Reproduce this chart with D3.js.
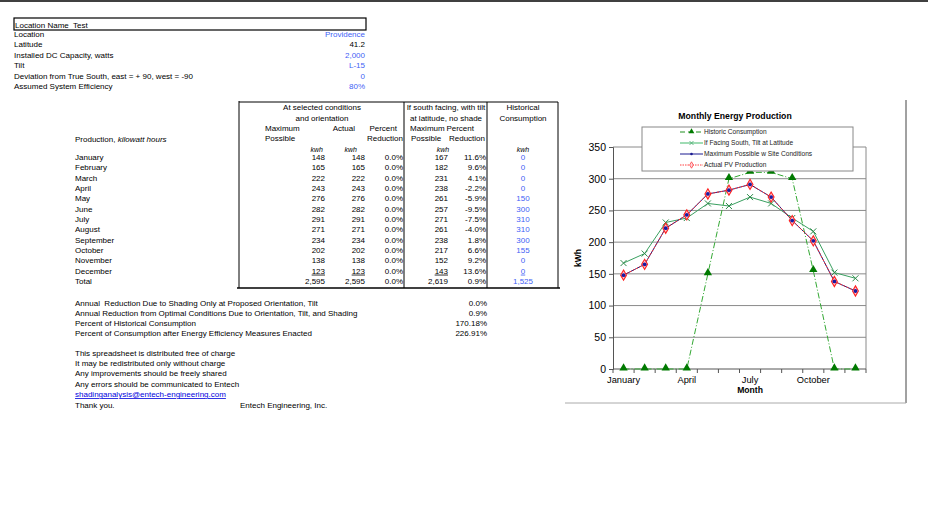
<!DOCTYPE html>
<html><head><meta charset="utf-8">
<script src="https://cdn.jsdelivr.net/npm/d3@7"></script>
<style>body{margin:0;background:#fff;} svg{display:block;font-family:"Liberation Sans",Arial,sans-serif;}</style>
</head><body><svg id="c" width="928" height="507"></svg>
<script>
const months = ["January","February","March","April","May","June","July","August","September","October","November","December"];
const maxPossible = [148,165,222,243,276,282,291,271,234,202,138,123];
const actualPV = [148,165,222,243,276,282,291,271,234,202,138,123];
const actualReduction = [0,0,0,0,0,0,0,0,0,0,0,0];
const southMax = [167,182,231,238,261,257,271,261,238,217,152,143];
const southReduction = [11.6,9.6,4.1,-2.2,-5.9,-9.5,-7.5,-4.0,1.8,6.6,9.2,13.6];
const historic = [0,0,0,0,150,300,310,310,300,155,0,0];
const totalsRow = ["2,595","2,595","0.0%","2,619","0.9%","1,525"];
const infoLabels = ["Location","Latitude","Installed DC Capacity, watts","Tilt","Deviation from True South, east = + 90, west = -90","Assumed System Efficiency"];
const infoValues = ["Providence","41.2","2,000","L-15","0","80%"];
const infoBlue = [true,false,true,true,true,true];
const summaryLabels = ["Annual  Reduction Due to Shading Only at Proposed Orientation, Tilt","Annual Reduction from Optimal Conditions Due to Orientation, Tilt, and Shading","Percent of Historical Consumption","Percent of Consumption after Energy Efficiency Measures Enacted"];
const summaryValues = ["0.0%","0.9%","170.18%","226.91%"];
const noteLines = ["This spreadsheet is distributed free of charge","It may be redistributed only without charge","Any improvements should be freely shared","Any errors should be communicated to Entech"];
const yTicks = [0,50,100,150,200,250,300,350];
const xTickLabels = ["January","April","July","October"];
const legendNames = ["Historic Consumption","If Facing South, Tilt at Latitude","Maximum Possible w Site Conditions","Actual PV Production"];

const BLUE = "#3f5ff5";
const svg = d3.select("#c");
const fs = 8;

// top page line
svg.append("line").attr("x1",0).attr("x2",928).attr("y1",1).attr("y2",1).attr("stroke","#000").attr("stroke-width",1.5);

// info block
svg.append("rect").attr("x",14).attr("y",18).attr("width",352).attr("height",12).attr("fill","none").attr("stroke","#000").attr("stroke-width",1.2);
svg.append("text").attr("x",15).attr("y",27.5).attr("font-size",fs).attr("xml:space","preserve").text("Location Name  Test");
infoLabels.forEach((l,i)=>{
  const y = 37 + i*10.4;
  svg.append("text").attr("x",14).attr("y",y).attr("font-size",fs).text(l);
  svg.append("text").attr("x",365).attr("y",y).attr("font-size",fs).attr("text-anchor","end").attr("fill",infoBlue[i]?BLUE:"#000").text(infoValues[i]);
});

// table lines
const tl = (x1,y1,x2,y2,w)=>svg.append("line").attr("x1",x1).attr("y1",y1).attr("x2",x2).attr("y2",y2).attr("stroke","#000").attr("stroke-width",w||1);
tl(239,101,239,288);
tl(239,102,558,102);
tl(237,288,560,288,1.4);
tl(404,102,404,288); tl(487,102,487,288); tl(558,102,558,288);

const txt = (x,y,s,anchor,opts={})=>{
  const t = svg.append("text").attr("x",x).attr("y",y).attr("font-size",opts.size||fs).attr("text-anchor",anchor||"start").attr("fill",opts.fill||"#000").text(s);
  if(opts.italic) t.attr("font-style","italic");
  if(opts.bold) t.attr("font-weight","bold");
  if(opts.ul) t.attr("text-decoration","underline");
  return t;
};
// headers
txt(322,110,"At selected conditions","middle");
txt(322,121,"and orientation","middle");
txt(265,131,"Maximum"); txt(355,131,"Actual","end"); txt(397,131,"Percent","end");
txt(265,141,"Possible"); txt(403,141,"Reduction","end");
txt(446,110,"If south facing, with tilt","middle");
txt(446,121,"at latitude, no shade","middle");
txt(410,131,"Maximum"); txt(474,131,"Percent","end");
txt(411,141,"Possible"); txt(485,141,"Reduction","end");
txt(523,110,"Historical","middle"); txt(523,121,"Consumption","middle");
txt(323,152,"kwh","end",{italic:true,size:7});
txt(357,152,"kwh","end",{italic:true,size:7});
txt(443,152,"kwh","middle",{italic:true,size:7});
txt(523,152,"kwh","middle",{italic:true,size:7});
const prod = svg.append("text").attr("x",75).attr("y",141.5).attr("font-size",fs);
prod.append("tspan").text("Production, ");
prod.append("tspan").attr("font-style","italic").text("kilowatt hours");

const fmtPct = v=>v.toFixed(1)+"%";
months.forEach((m,i)=>{
  const y = 160 + i*10.33;
  const last = i===11;
  txt(75,y,m);
  txt(325,y,String(maxPossible[i]),"end",{ul:last});
  txt(365,y,String(actualPV[i]),"end",{ul:last});
  txt(403,y,fmtPct(actualReduction[i]),"end");
  txt(448,y,String(southMax[i]),"end",{ul:last});
  txt(486,y,fmtPct(southReduction[i]),"end");
  txt(523,y,String(historic[i]),"middle",{fill:BLUE,ul:last});
});
const ty = 160+12*10.33;
txt(75,ty,"Total");
[[325,"end"],[365,"end"],[403,"end"],[448,"end"],[486,"end"],[523,"middle"]].forEach((p,j)=>{
  txt(p[0],ty,totalsRow[j],p[1],{fill:j===5?BLUE:"#000"});
});

// summary
summaryLabels.forEach((l,i)=>{
  const y = 306.3 + i*10;
  txt(75,y,l).attr("xml:space","preserve");
  txt(487,y,summaryValues[i],"end");
});
noteLines.forEach((l,i)=>{ txt(75,356+i*10.2,l); });
txt(75,397,"shadinganalysis@entech-engineering.com","start",{fill:"#0000dd",ul:true});
txt(75,408,"Thank you.");
txt(240,408,"Entech Engineering, Inc.");

// ===== Chart =====
const x = d3.scaleBand().domain(months).range([613,866]);
const y = d3.scaleLinear().domain([0,350]).range([369,147]);
const cx = m=>x(m)+x.bandwidth()/2;

// outer frame pieces
svg.append("line").attr("x1",906).attr("x2",906).attr("y1",100).attr("y2",403).attr("stroke","#444").attr("stroke-width",1);
svg.append("line").attr("x1",565).attr("x2",906).attr("y1",403).attr("y2",403).attr("stroke","#aaa").attr("stroke-width",1);

svg.append("text").attr("x",735).attr("y",119).attr("text-anchor","middle").attr("font-size",8.7).attr("font-weight","bold").text("Monthly Energy Production");

// gridlines
svg.append("g").selectAll("line").data(yTicks.filter(t=>t>0)).join("line")
  .attr("x1",613).attr("x2",866).attr("y1",d=>y(d)).attr("y2",d=>y(d)).attr("stroke","#8a8a8a").attr("stroke-width",1);
// right border
svg.append("line").attr("x1",866).attr("x2",866).attr("y1",147).attr("y2",369).attr("stroke","#8a8a8a");

// y axis
const ya = svg.append("g").attr("transform","translate(613,0)").call(d3.axisLeft(y).tickValues(yTicks).tickSize(4).tickPadding(3));
ya.select(".domain").attr("stroke","#555");
ya.selectAll(".tick line").attr("stroke","#555");
ya.selectAll("text").attr("font-size",10.5).attr("font-family","Liberation Sans, Arial, sans-serif").attr("fill","#000");

// x axis
const xa = svg.append("g");
xa.append("line").attr("x1",613).attr("x2",866).attr("y1",369).attr("y2",369).attr("stroke","#555");
xa.selectAll("line.tk").data(months.map(m=>x(m)).concat([x.range()[1]])).join("line").attr("class","tk")
  .attr("x1",d=>d).attr("x2",d=>d).attr("y1",369).attr("y2",373).attr("stroke","#555");
xa.selectAll("text").data(xTickLabels).join("text").attr("x",d=>cx(d)).attr("y",383).attr("text-anchor","middle").attr("font-size",9.3).text(d=>d);
svg.append("text").attr("x",cx("July")).attr("y",393).attr("text-anchor","middle").attr("font-size",8.6).attr("font-weight","bold").text("Month");
svg.append("text").attr("transform","translate(581,258) rotate(-90)").attr("text-anchor","middle").attr("font-size",8.6).attr("font-weight","bold").text("kWh");

const line = d3.line().x((d,i)=>cx(months[i])).y(d=>y(d));

// Historic
svg.append("path").datum(historic).attr("d",line).attr("fill","none").attr("stroke","#33a833").attr("stroke-width",1).attr("stroke-dasharray","6,2,1,2");
const tri = d3.symbol().type(d3.symbolTriangle).size(30);
svg.append("g").selectAll("path").data(historic).join("path").attr("d",tri)
  .attr("transform",(d,i)=>`translate(${cx(months[i])},${y(d)-1})`).attr("fill","#007a00");

// South
svg.append("path").datum(southMax).attr("d",line).attr("fill","none").attr("stroke","#3aa060").attr("stroke-width",1);
const xs = 3;
svg.append("g").selectAll("path").data(southMax).join("path")
  .attr("d",(d,i)=>{const px=cx(months[i]),py=y(d);return `M${px-xs},${py-xs}L${px+xs},${py+xs}M${px-xs},${py+xs}L${px+xs},${py-xs}`;})
  .attr("stroke","#2d8a4a").attr("stroke-width",1);

// Max possible (navy line)
svg.append("path").datum(maxPossible).attr("d",line).attr("fill","none").attr("stroke","#1a1a80").attr("stroke-width",1);
// Actual (red dotted line + diamonds)
svg.append("path").datum(actualPV).attr("d",line).attr("fill","none").attr("stroke","#ff3030").attr("stroke-width",1).attr("stroke-dasharray","2,1.5");
const dia = d3.symbol().type(d3.symbolDiamond).size(30);
svg.append("g").selectAll("path").data(actualPV).join("path").attr("d",dia)
  .attr("transform",(d,i)=>`translate(${cx(months[i])},${y(d)})`).attr("fill","#ffc8d0").attr("stroke","#ff2020").attr("stroke-width",1.1);
svg.append("g").selectAll("circle").data(maxPossible).join("circle")
  .attr("cx",(d,i)=>cx(months[i])).attr("cy",d=>y(d)).attr("r",1.9).attr("fill","#1a1aa0");

// legend
const lg = svg.append("g");
lg.append("rect").attr("x",642).attr("y",127).attr("width",211).attr("height",44).attr("fill","#fff").attr("stroke","#888");
const ly = [132,143,154,165];
legendNames.forEach((n,i)=>{
  lg.append("text").attr("x",704).attr("y",ly[i]+2.3).attr("font-size",6.6).attr("fill","#222").text(n);
});
// historic legend
lg.append("line").attr("x1",680).attr("x2",703).attr("y1",ly[0]).attr("y2",ly[0]).attr("stroke","#1f8f1f").attr("stroke-dasharray","5,3");
lg.append("path").attr("d",d3.symbol().type(d3.symbolTriangle).size(14)).attr("transform",`translate(691.5,${ly[0]-0.5})`).attr("fill","#007a00");
// south legend
lg.append("line").attr("x1",680).attr("x2",703).attr("y1",ly[1]).attr("y2",ly[1]).attr("stroke","#9fdcb4").attr("stroke-width",2);
lg.append("path").attr("d",`M689.5,${ly[1]-2}L693.5,${ly[1]+2}M689.5,${ly[1]+2}L693.5,${ly[1]-2}`).attr("stroke","#4aa870").attr("stroke-width",0.8);
// max legend
lg.append("line").attr("x1",680).attr("x2",703).attr("y1",ly[2]).attr("y2",ly[2]).attr("stroke","#1a1a90");
lg.append("circle").attr("cx",691.5).attr("cy",ly[2]).attr("r",1.3).attr("fill","#1a1a90");
// actual legend
lg.append("line").attr("x1",680).attr("x2",703).attr("y1",ly[3]).attr("y2",ly[3]).attr("stroke","#ff4040").attr("stroke-dasharray","1.5,1");
lg.append("path").attr("d",d3.symbol().type(d3.symbolDiamond).size(12)).attr("transform",`translate(691.5,${ly[3]})`).attr("fill","#ffd0d8").attr("stroke","#ff3030").attr("stroke-width",0.7);
</script></body></html>
